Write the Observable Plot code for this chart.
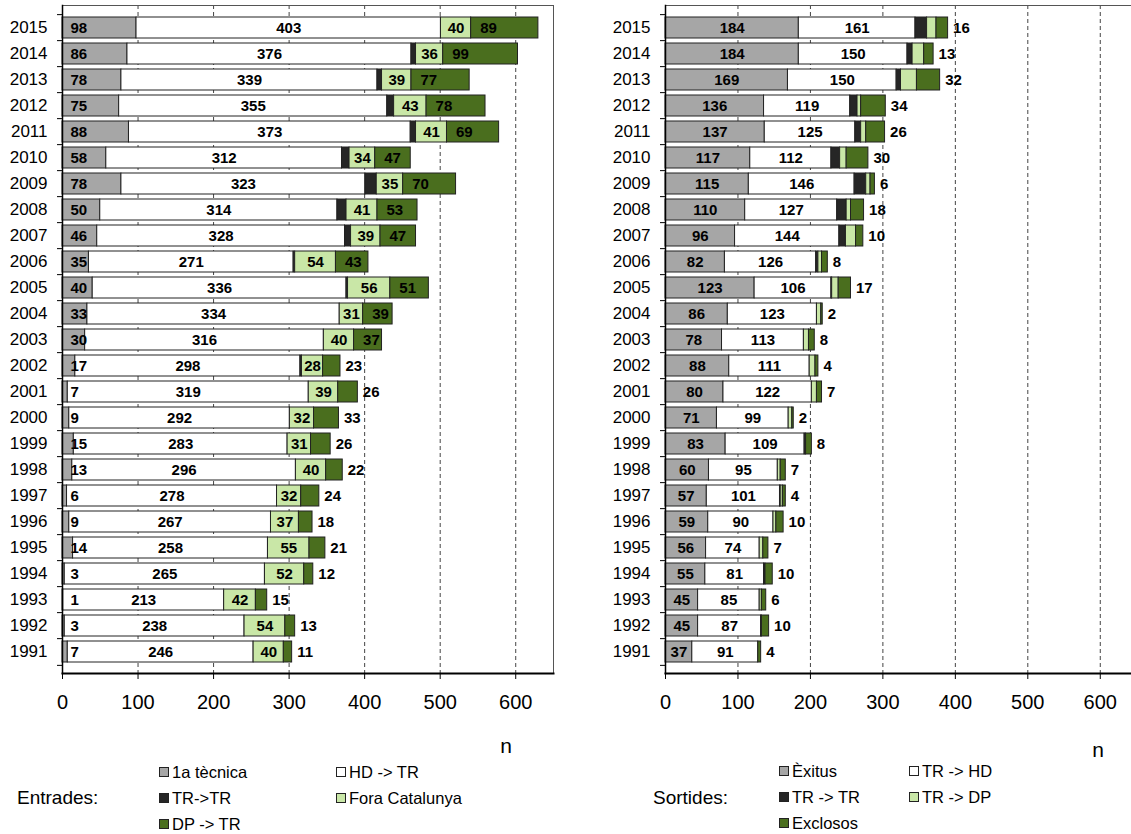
<!DOCTYPE html>
<html><head><meta charset="utf-8">
<script src="https://cdn.jsdelivr.net/npm/d3@7"></script>
<script src="https://cdn.jsdelivr.net/npm/@observablehq/plot@0.6"></script>
<style>
html,body{margin:0;padding:0;overflow:hidden;background:#fff;width:1131px;height:834px;}
#wrap{position:relative;width:1131px;height:834px;font-family:"Liberation Sans",Arial,sans-serif;color:#000;overflow:hidden;}
.panel{position:absolute;top:0;}
.t{position:absolute;white-space:nowrap;}
.sw{position:absolute;width:8px;height:8px;border:1px solid #222;}
</style></head><body><div id="wrap"></div>
<script>
// ---------- data ----------
const years = [2015,2014,2013,2012,2011,2010,2009,2008,2007,2006,2005,2004,2003,2002,2001,2000,1999,1998,1997,1996,1995,1994,1993,1992,1991];

// Entrades
const entSeries = ["1a tècnica", "HD -> TR", "TR->TR", "Fora Catalunya", "DP -> TR"];
const tecnica   = [98,86,78,75,88,58,78,50,46,35,40,33,30,17,7,9,15,13,6,9,14,3,1,3,7];
const hdTr      = [403,376,339,355,373,312,323,314,328,271,336,334,316,298,319,292,283,296,278,267,258,265,213,238,246];
const trTrIn    = [0,6,6,9,7,10,15,12,8,2,2,0,0,2,0,0,0,0,0,0,0,0,0,0,0];
const fora      = [40,36,39,43,41,34,35,41,39,54,56,31,40,28,39,32,31,40,32,37,55,52,42,54,40];
const dpTr      = [89,99,77,78,69,47,70,53,47,43,51,39,37,23,26,33,26,22,24,18,21,12,15,13,11];

// Sortides
const sortSeries = ["Èxitus", "TR -> HD", "TR -> TR", "TR -> DP", "Exclosos"];
const exitus    = [184,184,169,136,137,117,115,110,96,82,123,86,78,88,80,71,83,60,57,59,56,55,45,45,37];
const trHd      = [161,150,150,119,125,112,146,127,144,126,106,123,113,111,122,99,109,95,101,90,74,81,85,87,91];
const trTrOut   = [16,7,6,10,8,12,16,13,9,3,1,0,0,0,0,0,2,0,1,0,0,2,0,1,0];
const trDp      = [13,16,22,5,7,9,6,6,14,5,9,6,7,8,7,5,0,4,3,4,5,0,3,0,0];
const exclosos  = [16,13,32,34,26,30,6,18,10,8,17,2,8,4,7,2,8,7,4,10,7,10,6,10,4];

const xTicks = [0,100,200,300,400,500,600];
const colors = ["#a6a6a6", "#ffffff", "#262626", "#c9e7a7", "#4a6e1e"];

// ---------- helpers ----------
function longData(series, values) {
  const out = [];
  years.forEach((y, i) => series.forEach((s, j) => out.push({year: y, series: s, idx: j, value: values[j][i]})));
  return out;
}

const FONT = '"Liberation Sans", Arial, sans-serif';

function panel({series, values, modeOf, width, marginLeft, marginRight}) {
  const data = longData(series, values);
  const pxPerUnit = (width - marginLeft - marginRight) / 650;
  const tickLen = 5 / pxPerUnit;
  const step = (673 - 5) / years.length;
  const lab = (mode) => (d) => (modeOf(d) === mode ? String(d.value) : "");
  const txt = {fill: "#000", fontWeight: "bold", fontSize: 15};
  return Plot.plot({
    width, height: 720,
    marginLeft, marginRight, marginTop: 5, marginBottom: 47,
    x: {domain: [0, 650]},
    y: {type: "band", domain: years, paddingInner: 0.2, paddingOuter: 0.1},
    color: {domain: series, range: colors},
    style: {fontFamily: FONT, background: "transparent", overflow: "visible", color: "#000"},
    marks: [
      Plot.ruleX(xTicks.slice(1), {stroke: "#444", strokeDasharray: "4,3", strokeWidth: 1}),
      Plot.barX(data, Plot.stackX({filter: d => d.value > 0, x: "value", y: "year", fill: "series", stroke: "#222", strokeWidth: 1})),
      Plot.text(data, Plot.stackX1({x: "value", y: "year", text: lab("start"), textAnchor: "start", dx: 8, ...txt})),
      Plot.text(data, Plot.stackX({x: "value", y: "year", text: lab("mid"), textAnchor: "middle", ...txt})),
      Plot.text(data, Plot.stackX1({x: "value", y: "year", text: lab("inStart"), textAnchor: "start", dx: 9, ...txt})),
      Plot.text(data, Plot.stackX2({x: "value", y: "year", text: lab("end"), textAnchor: "start", dx: 5, ...txt})),
      Plot.frame({stroke: "#555", strokeWidth: 1}),
      Plot.frame({anchor: "left", stroke: "#000", strokeWidth: 1.5}),
      Plot.frame({anchor: "bottom", stroke: "#000", strokeWidth: 2}),
      Plot.ruleY(years, {y: d => d, x1: -tickLen, x2: 0, dy: -step / 2, stroke: "#000"}),
      Plot.ruleY(years.slice(-1), {y: d => d, x1: -tickLen, x2: 0, dy: step / 2, stroke: "#000"}),
      Plot.axisX({ticks: xTicks, tickSize: 6, tickPadding: 15, fontSize: 20, label: null, tickFormat: d => String(d)}),
      Plot.axisY({tickSize: 0, tickPadding: 15, fontSize: 17, label: null, tickFormat: d => String(d)})
    ]
  });
}

const wrap = document.getElementById("wrap");

const left = panel({
  series: entSeries,
  values: [tecnica, hdTr, trTrIn, fora, dpTr],
  modeOf: d => d.idx === 0 ? "start" : d.idx === 1 || d.idx === 3 ? "mid" : d.idx === 4 ? (d.value >= 35 ? "inStart" : "end") : "none",
  width: 556, marginLeft: 62, marginRight: 3
});
left.classList.add("panel");
left.style.left = "0px";
wrap.appendChild(left);

const right = panel({
  series: sortSeries,
  values: [exitus, trHd, trTrOut, trDp, exclosos],
  modeOf: d => d.idx === 0 || d.idx === 1 ? "mid" : d.idx === 4 ? "end" : "none",
  width: 537, marginLeft: 65, marginRight: 1
});
right.classList.add("panel");
right.style.left = "600px";
wrap.appendChild(right);

// ---------- axis titles & legends ----------
function text(str, x, cy, size, anchor = "start") {
  const el = document.createElement("div");
  el.className = "t";
  el.textContent = str;
  el.style.fontSize = size + "px";
  el.style.lineHeight = Math.round(size * 1.2) + "px";
  el.style.top = (cy - Math.round(size * 1.2) / 2) + "px";
  if (anchor === "middle") { el.style.left = x + "px"; el.style.transform = "translateX(-50%)"; }
  else el.style.left = x + "px";
  wrap.appendChild(el);
}
function item(label, color, x, cy) {
  const sw = document.createElement("div");
  sw.className = "sw";
  sw.style.background = color;
  sw.style.left = x + "px";
  sw.style.top = (cy - 5) + "px";
  wrap.appendChild(sw);
  text(label, x + 13, cy, 16.5);
}

text("n", 506, 745, 21, "middle");
text("n", 1098, 749, 21, "middle");

text("Entrades:", 17, 797, 19);
item(entSeries[0], colors[0], 159, 772);
item(entSeries[1], colors[1], 336, 772);
item(entSeries[2], colors[2], 159, 798);
item(entSeries[3], colors[3], 336, 798);
item(entSeries[4], colors[4], 159, 824);

text("Sortides:", 653, 797, 19);
item(sortSeries[0], colors[0], 779, 771);
item(sortSeries[1], colors[1], 909, 771);
item(sortSeries[2], colors[2], 779, 797);
item(sortSeries[3], colors[3], 909, 797);
item(sortSeries[4], colors[4], 779, 823);
</script></body></html>
